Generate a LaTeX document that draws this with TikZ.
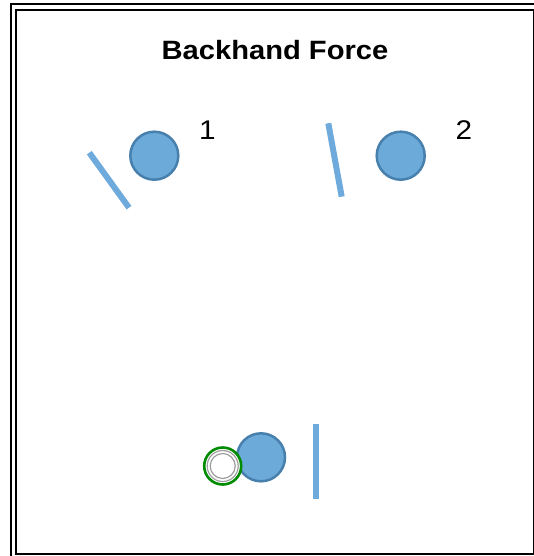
\documentclass[tikz,border=0pt]{standalone}
\usepackage{fontspec}
\setmainfont{Liberation Sans}
\definecolor{ballfill}{RGB}{108,170,218}
\definecolor{balledge}{RGB}{72,128,173}
\definecolor{racket}{RGB}{110,170,220}
\definecolor{ringgreen}{RGB}{0,140,0}
\tikzset{
  ball/.style={circle, draw=balledge, fill=ballfill, line width=2.5pt, minimum size=48pt, inner sep=0pt},
  bar/.style={draw=racket, line width=6pt},
  numlabel/.style={font=\fontsize{27}{30}\selectfont, xscale=1.1, anchor=base}
}
\begin{document}
\begin{tikzpicture}[x=1pt,y=-1pt]
\useasboundingbox (0,0) rectangle (534,556);

% Double frame round the page
\begin{scope}
\clip (0,0) rectangle (534,556);
\draw[line width=2.2pt] (11,4) rectangle (560,580);
\draw[line width=2.2pt] (15.7,9.7) rectangle (533.6,554);
\end{scope}

% Title
\node[font=\bfseries\fontsize{26.5}{30}\selectfont, xscale=1.1, anchor=base] (title) at (275,60) {Backhand Force};

% The two top arrangements: ball, racket and number
\foreach \n/\bx/\ax/\ay/\cx/\cy/\lx in {1/154.3/89.3/152.7/129/207.7/207.5,
                                         2/400.7/328.3/123.3/341.7/196.7/464} {
    \node[ball] (ball\n) at (\bx,155.7) {};
    \coordinate (top\n) at (\ax,\ay);
    \coordinate (bot\n) at (\cx,\cy);
    \draw[bar] (top\n) -- (bot\n);
    \node[numlabel] (num\n) at (\lx,140) {\n};
}

% Bottom arrangement
\node[ball] (ball3) at (261,457.3) {};
\node[circle, draw=ringgreen, fill=white, line width=2.6pt, minimum size=37pt, inner sep=0pt] (ring) at (222.7,466) {};
\draw[gray!75, line width=1.2pt] (ring.center) circle (15.5) circle (12.5);
\coordinate (top3) at (316.3,424.3);
\coordinate (bot3) at (316.3,499.3);
\draw[bar] (top3) -- (bot3);

\end{tikzpicture}
\end{document}
